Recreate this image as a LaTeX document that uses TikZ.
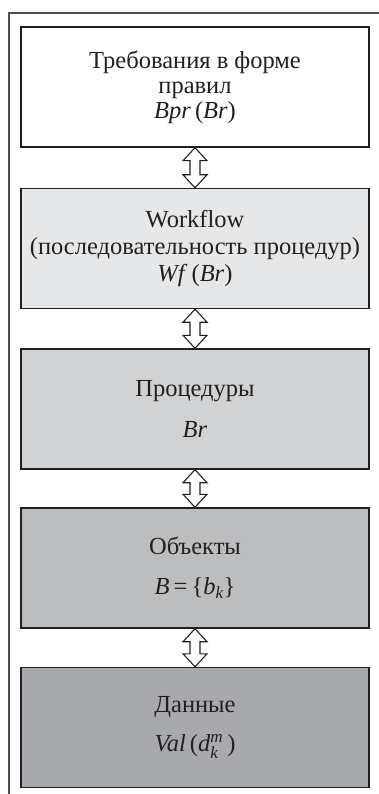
\documentclass[tikz,border=0pt]{standalone}
\usepackage{fontspec}
\setmainfont{Liberation Serif}
\usepackage{amsmath}
\usetikzlibrary{calc}
\definecolor{ink}{HTML}{231F20}
\definecolor{framec}{HTML}{505052}
\definecolor{fillb}{HTML}{E6E7E8}
\definecolor{fillc}{HTML}{D1D2D4}
\definecolor{filld}{HTML}{BCBDBF}
\definecolor{fille}{HTML}{A7A9AC}
\newcommand\hollowdbl[2]{%
  \draw[dblarrow] let \p1=(#1.south), \p2=(#2.north) in
  (\p1) -- (\x1+12pt,\y1-13pt) -- (\x1+5pt,\y1-13pt) -- (\x1+5pt,\y2+13pt)
  -- (\x1+12pt,\y2+13pt) -- (\p2) -- (\x1-12pt,\y2+13pt) -- (\x1-5pt,\y2+13pt)
  -- (\x1-5pt,\y1-13pt) -- (\x1-12pt,\y1-13pt) -- cycle;}
\begin{document}
\begin{tikzpicture}[x=1pt,y=-1pt,
  box/.style={draw=ink, line width=1.4pt, minimum width=348pt, minimum height=120pt,
    align=center, text=ink, inner sep=0pt, font=\fontsize{24.5}{25}\selectfont},
  dblarrow/.style={draw=ink, line width=1.1pt, fill=white, line join=miter},
  framel/.style={draw=framec, line width=1.4pt}]
\useasboundingbox (0,0) rectangle (379,794);
\fill[white] (0,0) rectangle (379,794);
\draw[framel] (379,13) -- (9,13) -- (9,794);
\node[box, fill=white] (b1) at (195,87) {Требования в форме\\правил\\\textit{Bpr}\,(\textit{Br})};
\node[box, fill=fillb] (b2) at (195,248.5) {Workflow\\[2pt](последовательность процедур)\\[2pt]\textit{Wf}\,(\textit{Br})};
\node[box, fill=fillc] (b3) at (195,409) {Процедуры\\[16pt]\textit{Br}};
\node[box, fill=filld] (b4) at (195,568) {Объекты\\[15pt]\textit{B}\,=\,\{\textit{b}$_{\textit{k}}$\}};
\node[box, fill=fille] (b5) at (195,727.5) {Данные\\[14pt]\textit{Val}\,(\textit{d}$^{\textit{m}}_{\textit{k}}$\,)};
\hollowdbl{b1}{b2}
\hollowdbl{b2}{b3}
\hollowdbl{b3}{b4}
\hollowdbl{b4}{b5}
\end{tikzpicture}
\end{document}
